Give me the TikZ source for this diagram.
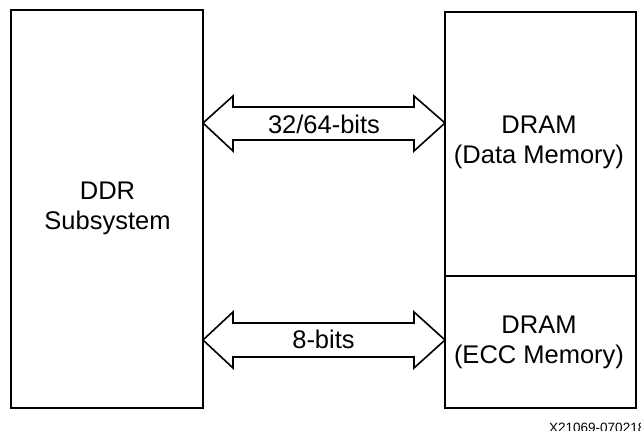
\documentclass[tikz,border=0pt]{standalone}
\usepackage{fontspec}
\setmainfont{Liberation Sans}
\begin{document}
\begin{tikzpicture}[x=1pt,y=-1pt,
  box/.style={draw=black, line width=2pt},
  lbl/.style={font=\fontsize{25.5}{30}\selectfont, align=center, inner sep=0pt},
  fatarrow/.style={draw=black, line width=1.6pt, line join=miter, fill=white}]
\useasboundingbox (0,0) rectangle (641,431);
% boxes
\draw[box] (11,10) rectangle (203,408);
\draw[box] (445,12) rectangle (636,408);
\draw[box] (445,276) -- (636,276);
\node[lbl] (ddr) at (107.5,208) {DDR\\Subsystem};
\node[lbl] (data) at (539,142) {DRAM\\(Data Memory)};
\node[lbl] (ecc) at (539,342) {DRAM\\(ECC Memory)};
% arrow 1
\coordinate (a1l) at (203,123);
\coordinate (a1r) at (445,123);
\draw[fatarrow] (a1l) -- (233,96) -- (233,107) -- (414,107) -- (414,96) -- (a1r)
  -- (414,151) -- (414,140) -- (233,140) -- (233,151) -- cycle;
\node[lbl, anchor=base] (w1) at (324,133.3) {32/64-bits};
% arrow 2
\coordinate (a2l) at (203,340);
\coordinate (a2r) at (445,340);
\draw[fatarrow] (a2l) -- (233,312) -- (233,323) -- (414,323) -- (414,312) -- (a2r)
  -- (414,368) -- (414,357) -- (233,357) -- (233,368) -- cycle;
\node[lbl, anchor=base] (w2) at (323.5,348.3) {8-bits};
% figure id
\node[anchor=base west, font=\fontsize{13.5}{15}\selectfont, inner sep=0pt] (fid) at (549,432) {X21069-070218};
\end{tikzpicture}
\end{document}
